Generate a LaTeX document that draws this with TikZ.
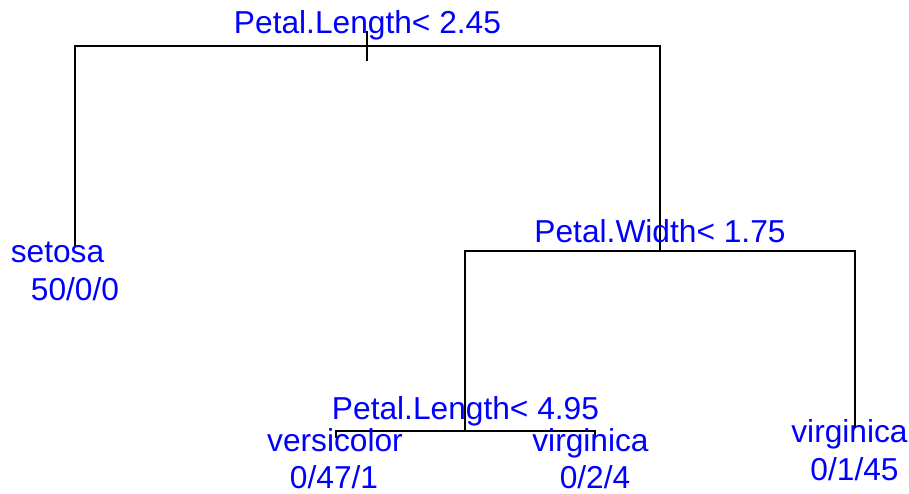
\documentclass[tikz,border=0pt]{standalone}
\usepackage{fontspec}
\setmainfont{Liberation Sans}
\begin{document}
\begin{tikzpicture}[x=1pt,y=-1pt,
  branch/.style={draw=black,line width=1.4pt,line cap=rect},
  lbl/.style={text=blue,anchor=base,inner sep=0pt,outer sep=0pt,
    font=\fontsize{31.7}{31.7}\selectfont}]
\useasboundingbox (0,0) rectangle (909,493);
% split points and leaf ends
\coordinate (root) at (367,46);
\coordinate (rootTick) at (367,32);
\coordinate (rootStem) at (367,60);
\coordinate (rL) at (75,46);
\coordinate (rR) at (660,46);
\coordinate (setosaEnd) at (75,245);
\coordinate (pw) at (660,251);
\coordinate (pwL) at (465,251);
\coordinate (pwR) at (855,251);
\coordinate (virgEnd) at (855,427);
\coordinate (pl) at (465,431);
\coordinate (plL) at (336,431);
\coordinate (plR) at (595,431);
\coordinate (versEnd) at (336,437);
\coordinate (virgMidEnd) at (595,437);
% tree branches
\draw[branch] (rootTick) -- (rootStem);
\draw[branch] (setosaEnd) -- (rL) -- (rR) -- (pw);
\draw[branch] (pl) -- (pwL) -- (pwR) -- (virgEnd);
\draw[branch] (versEnd) -- (plL) -- (plR) -- (virgMidEnd);
% split labels
\node[lbl] (s1) at (367.5,33) {Petal.Length< 2.45};
\node[lbl] (s2) at (660,242) {Petal.Width< 1.75};
\node[lbl] (s3) at (465.5,419) {Petal.Length< 4.95};
% leaf labels
\node[lbl] (l1) at (57.5,262) {setosa};
\node[lbl] (l1n) at (75,300) {50/0/0};
\node[lbl] (l2) at (335,451) {versicolor};
\node[lbl] (l2n) at (334,488) {0/47/1};
\node[lbl] (l3) at (590.5,451) {virginica};
\node[lbl] (l3n) at (595,488) {0/2/4};
\node[lbl] (l4) at (849.5,442) {virginica};
\node[lbl] (l4n) at (854.5,480) {0/1/45};
\end{tikzpicture}
\end{document}
